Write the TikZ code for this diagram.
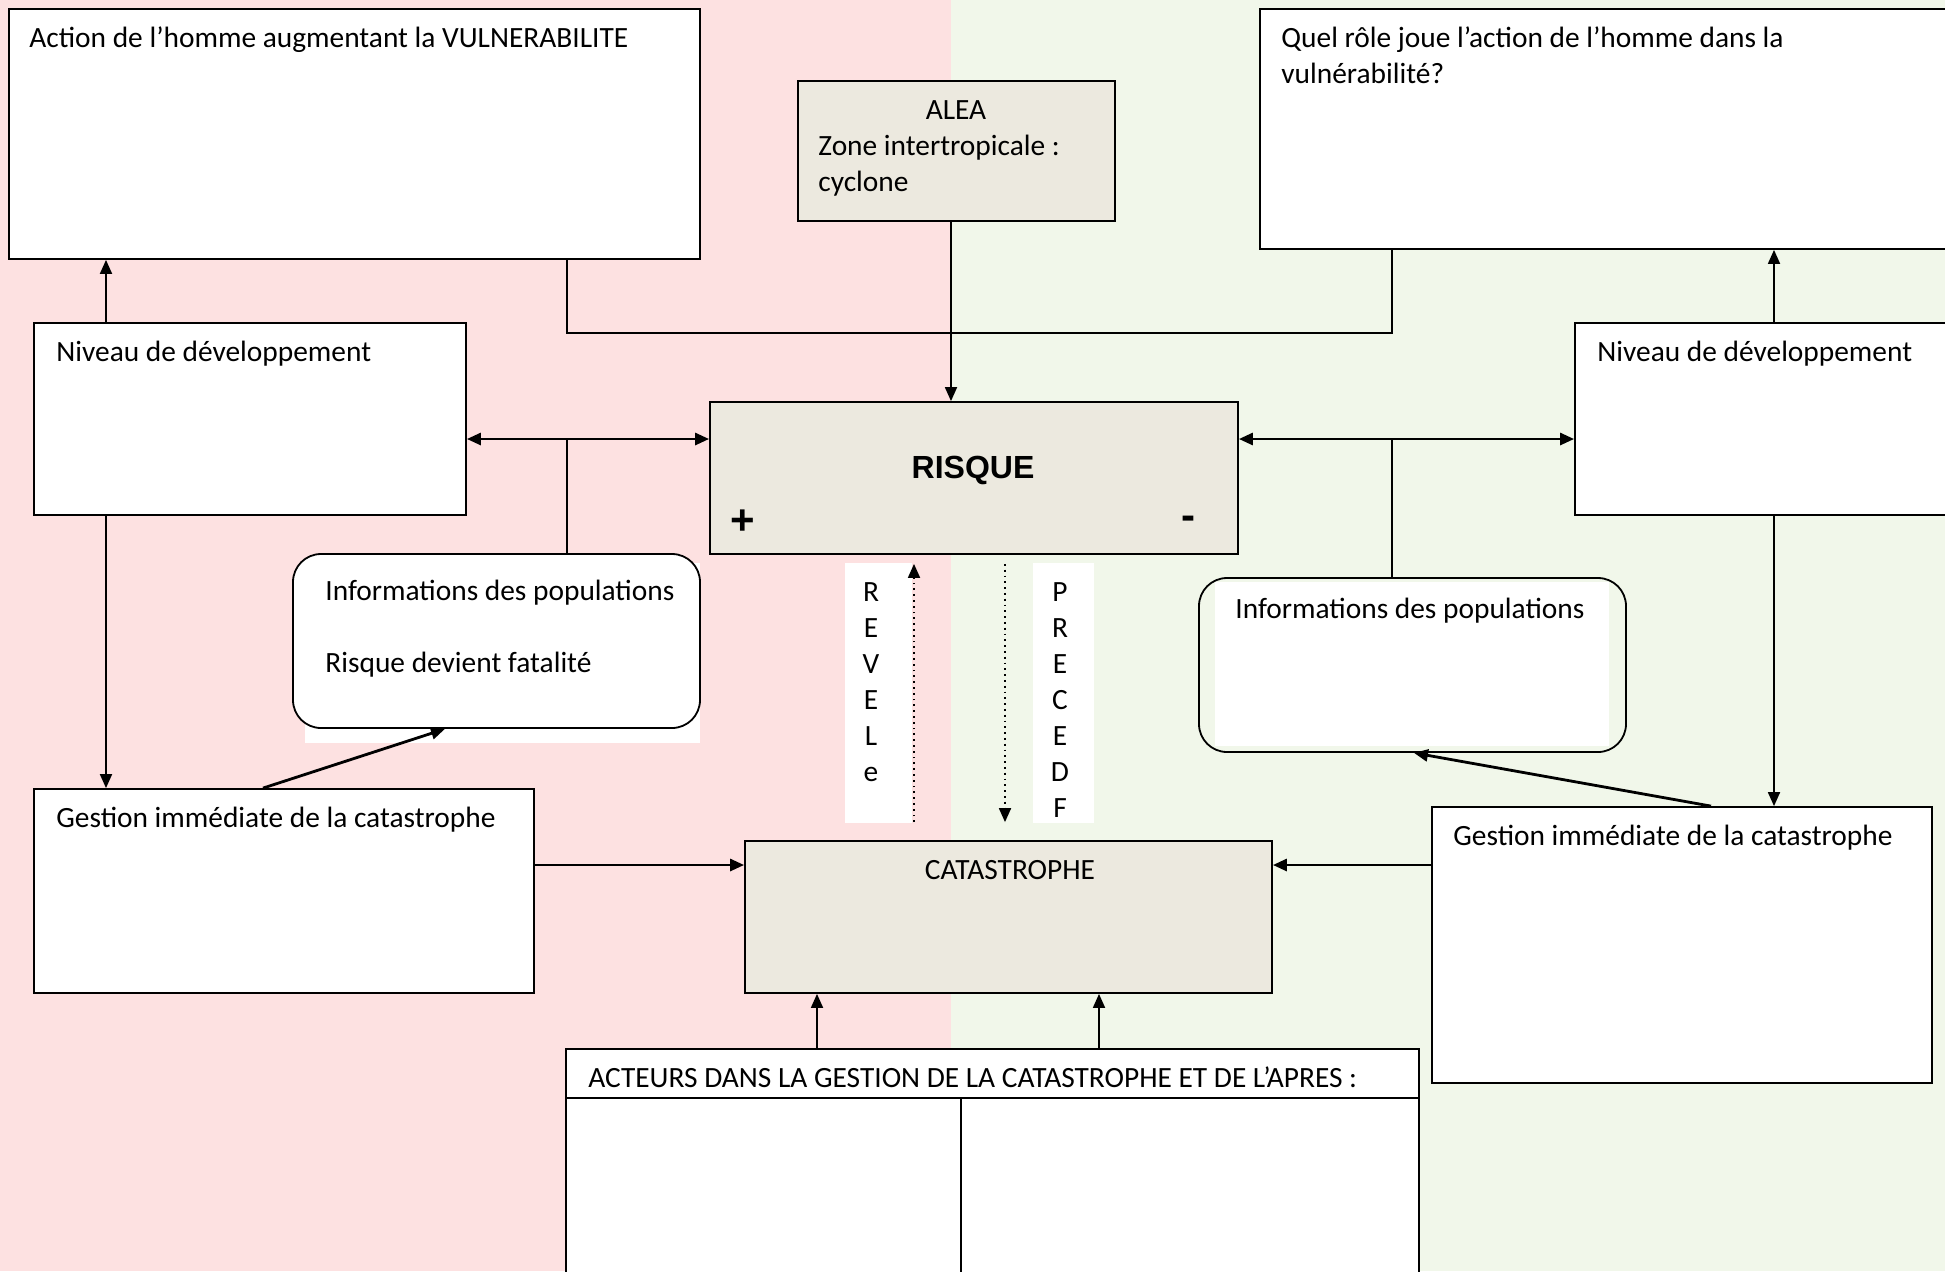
\documentclass[tikz,border=0pt]{standalone}
\usepackage{fontspec}
\setmainfont{Carlito}
\newfontfamily\arial{Liberation Sans}
\usetikzlibrary{arrows.meta,fit}
\definecolor{rosa}{RGB}{253,225,225}
\definecolor{verde}{RGB}{241,247,234}
\definecolor{bege}{RGB}{236,233,223}

\begin{document}
\begin{tikzpicture}[x=0.5pt, y=-0.5pt, >={Triangle[length=7pt,width=6pt]},
    caixa/.style={draw, fill=white, line width=0.9pt, inner sep=0pt},
    bloco/.style={caixa, fill=bege},
    info/.style={draw, line width=0.9pt, rounded corners=14pt, inner sep=0pt},
    texto/.style={inner sep=0pt, font=\fontsize{14.7}{18}\selectfont, align=left},
    letra/.style={inner sep=0pt, font=\fontsize{14.7}{18}\selectfont, anchor=base},
    fio/.style={line width=0.9pt},
    seta/.style={fio, ->},
    setagrossa/.style={line width=1.4pt, ->}]
  % Fundo
  \useasboundingbox (0,0) rectangle (1945,1271);
  \clip (0,0) rectangle (1945,1271);
  \fill[rosa] (0,0) rectangle (951,1271);
  \fill[verde] (951,0) rectangle (1945,1271);

  % Caixas
  \node[caixa, fit={(9,9) (700,259)}] (acao) {};
  \node[bloco, fit={(798,81) (1115,221)}] (alea) {};
  \node[caixa, fit={(1260,9) (1960,249)}] (quel) {};
  \node[caixa, fit={(34,323) (466,515)}] (nivE) {};
  \node[caixa, fit={(1575,323) (1960,515)}] (nivD) {};
  \node[bloco, fit={(710,402) (1238,554)}] (risque) {};
  \fill[white] (305,563) rectangle (700,743);
  \node[info, fill=white, fit={(293,554) (700,728)}] (infoE) {};
  \fill[white] (1215,582) rectangle (1609,746);
  \node[info, fit={(1199,578) (1626,752)}] (infoD) {};
  \node[caixa, fit={(34,789) (534,993)}] (gestE) {};
  \node[caixa, fit={(1432,807) (1932,1083)}] (gestD) {};
  \node[bloco, fit={(745,841) (1272,993)}] (cata) {};
  \node[caixa, fit={(566,1049) (1419,1300)}] (acteurs) {};
  \node[fill=white, inner sep=0pt, fit={(845,563) (912,823)}] (fRev) {};
  \node[fill=white, inner sep=0pt, fit={(1033,563) (1094,823)}] (fPre) {};

  % Textos
  \node[texto, anchor=base west] (tAcao) at (29,47) {Action de l’homme augmentant la VULNERABILITE};
  \node[texto, anchor=base] (tAlea) at (956,119) {ALEA};
  \node[texto, anchor=base west] (tZone) at (818,191) {Zone intertropicale :\\cyclone};
  \node[texto, anchor=base west] (tQuel) at (1281,83) {Quel rôle joue l’action de l’homme dans la\\vulnérabilité?};
  \node[texto, anchor=base west] (tNivE) at (56,361) {Niveau de développement};
  \node[texto, anchor=base west] (tNivD) at (1597,361) {Niveau de développement};
  \node[anchor=base, inner sep=0pt, font=\arial\bfseries\fontsize{16}{19}\selectfont] (tRisque) at (973,478) {RISQUE};
  \node[inner sep=0pt, font=\arial\bfseries\fontsize{21}{24}\selectfont] (mais) at (743,522) {+};
  \node[inner sep=0pt, font=\arial\bfseries\fontsize{21}{24}\selectfont] (menos) at (1188,523) {-};
  \node[texto, anchor=base west] (tInfoE) at (325,672) {Informations des populations\\[18pt]Risque devient fatalité};
  \node[texto, anchor=base west] (tInfoD) at (1235,618) {Informations des populations};
  \node[texto, anchor=base west] (tGestE) at (56,827) {Gestion immédiate de la catastrophe};
  \node[texto, anchor=base west] (tGestD) at (1453,845) {Gestion immédiate de la catastrophe};
  \node[texto, anchor=base] (tCata) at (1010,879) {CATASTROPHE};
  \node[texto, anchor=base west] (tActeurs) at (588,1087) {ACTEURS DANS LA GESTION DE LA CATASTROPHE ET DE L’APRES :};
  \foreach \l [count=\i] in {R,E,V,E,L,e}
    \node[letra] (rev\i) at (871,{565+36*\i}) {\l};
  \foreach \l [count=\i] in {P,R,E,C,E,D,F}
    \node[letra] (pre\i) at (1060,{565+36*\i}) {\l};

  % Pontos de passagem
  \coordinate (c1) at (106,0);
  \coordinate (c2) at (1774,0);
  \coordinate (vE) at (567,439);
  \coordinate (vD) at (1392,439);
  \coordinate (canto) at (1392,333);
  \coordinate (cAlea) at (951,0);
  \coordinate (hG) at (0,865);
  \coordinate (cA1) at (817,0);
  \coordinate (cA2) at (1099,0);
  \coordinate (pE) at (263,0);
  \coordinate (qE) at (445,0);
  \coordinate (pD) at (1711,0);
  \coordinate (qD) at (1414,0);
  \coordinate (cRev) at (914,0);
  \coordinate (cPre) at (1005,0);
  \coordinate (hT) at (0,1098);
  \coordinate (cT) at (961,0);

  % Ligacoes
  \draw[seta] (alea.south -| cAlea) -- (risque.north -| cAlea);
  \draw[fio] (acao.south -| vE) |- (canto) -- (quel.south -| canto);
  \draw[seta] (nivE.north -| c1) -- (acao.south -| c1);
  \draw[seta] (nivE.south -| c1) -- (gestE.north -| c1);
  \draw[seta] (nivD.north -| c2) -- (quel.south -| c2);
  \draw[seta] (nivD.south -| c2) -- (gestD.north -| c2);
  \draw[setagrossa, <->] (nivE.east |- vE) -- (risque.west |- vE);
  \draw[setagrossa, <->] (risque.east |- vD) -- (nivD.west |- vD);
  \draw[fio] (vE) -- (infoE.north -| vE);
  \draw[fio] (vD) -- (infoD.north -| vD);
  \draw[setagrossa] (gestE.north -| pE) -- (infoE.south -| qE);
  \draw[setagrossa] (gestD.north -| pD) -- (infoD.south -| qD);
  \draw[setagrossa] (gestE.east |- hG) -- (cata.west |- hG);
  \draw[setagrossa] (gestD.west |- hG) -- (cata.east |- hG);
  \draw[seta] (acteurs.north -| cA1) -- (cata.south -| cA1);
  \draw[seta] (acteurs.north -| cA2) -- (cata.south -| cA2);
  \draw[seta, dotted, shorten <=9pt, shorten >=4.5pt] (cata.north -| cRev) -- (risque.south -| cRev);
  \draw[seta, dotted, shorten <=4.5pt, shorten >=9pt] (risque.south -| cPre) -- (cata.north -| cPre);

  % Tabela dos acteurs
  \draw[fio] (acteurs.west |- hT) -- (acteurs.east |- hT);
  \draw[fio] (cT |- hT) -- (acteurs.south -| cT);
\end{tikzpicture}
\end{document}
